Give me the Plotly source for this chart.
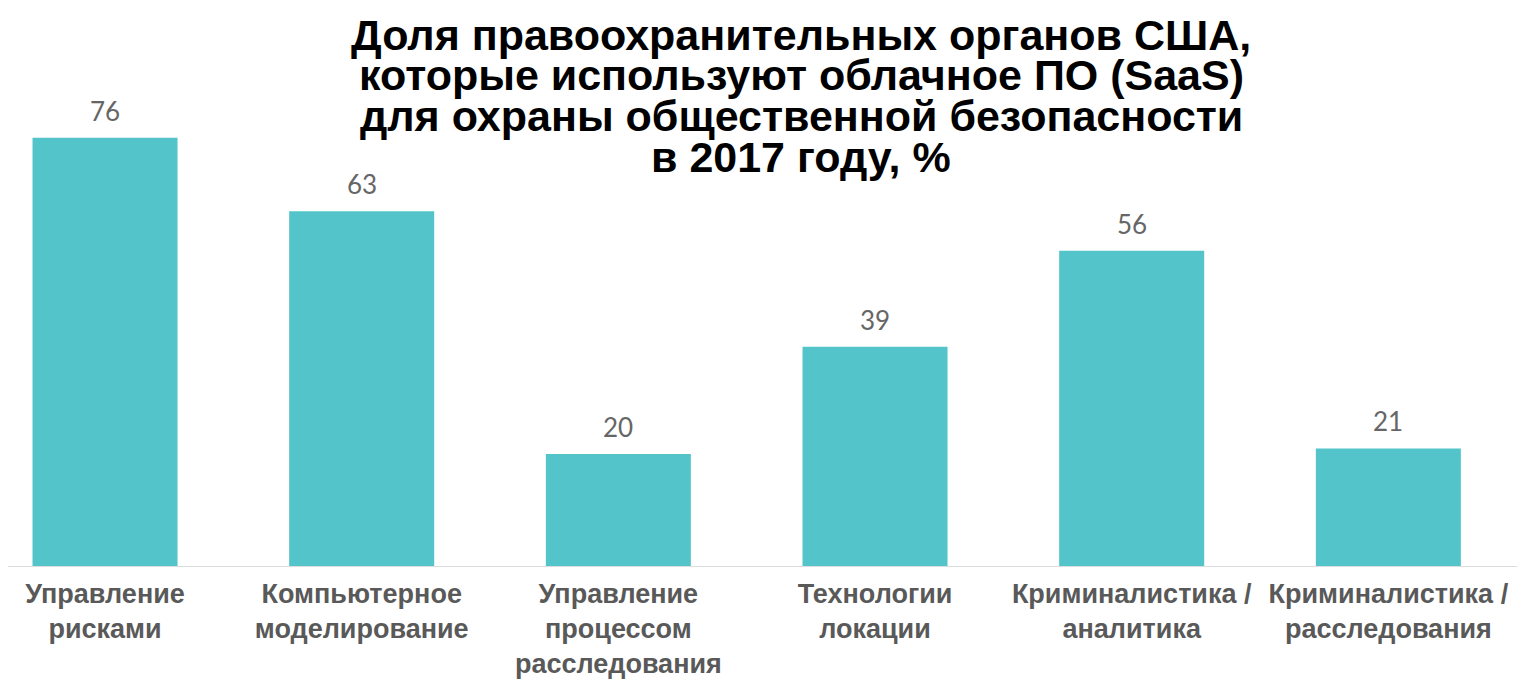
import plotly.graph_objects as go

categories = [
    'Управление<br>рисками',
    'Компьютерное<br>моделирование',
    'Управление<br>процессом<br>расследования',
    'Технологии<br>локации',
    'Криминалистика /<br>аналитика',
    'Криминалистика /<br>расследования',
]
values = [76, 63, 20, 39, 56, 21]

title_lines = [
    'Доля правоохранительных органов США,',
    'которые используют облачное ПО (SaaS)',
    'для охраны общественной безопасности',
    'в 2017 году, %',
]

# page has an 8px body margin, so the figure is shifted a bit
plot_h = 559
xpos = list(range(len(categories)))

fig = go.Figure()

fig.add_trace(go.Bar(
    x=xpos, y=values, width=0.565,
    marker=dict(color='#53C4CA', line=dict(width=0)),
    showlegend=False, hoverinfo='x+y'
))

# value labels above the bars
for i, v in zip(xpos, values):
    fig.add_annotation(
        x=i, y=v, text=str(v), showarrow=False, yanchor='bottom', yshift=9,
        font=dict(family='Lato', size=26, color='#666666')
    )

# title lines, tight line spacing like the original
for k, line in enumerate(title_lines):
    fig.add_annotation(
        text='<b>' + line + '</b>', xref='paper', yref='paper',
        x=0.515, y=1 - (27 + 40.5 * k) / plot_h,
        xanchor='center', yanchor='middle', showarrow=False,
        font=dict(family='Liberation Sans', size=43, color='black')
    )

# light baseline that stops short of the right edge
fig.add_shape(type='line', xref='paper', yref='y', x0=0, x1=0.98, y0=0, y1=0,
              line=dict(color='#dddddd', width=2))

fig.update_layout(
    width=1540, height=698,
    margin=dict(l=0, r=0, t=0, b=139),
    plot_bgcolor='white', paper_bgcolor='white',
    xaxis=dict(
        range=[-0.378, 5.622], tickmode='array',
        tickvals=xpos, ticktext=['<b>' + c + '</b>' for c in categories],
        tickfont=dict(family='Liberation Sans', size=27, color='#595959'),
        showgrid=False, zeroline=False, showline=False,
        ticks='', ticklabelstandoff=8
    ),
    yaxis=dict(range=[0, 99.0], visible=False, showgrid=False, zeroline=False),
)

fig.write_html("out.html")
